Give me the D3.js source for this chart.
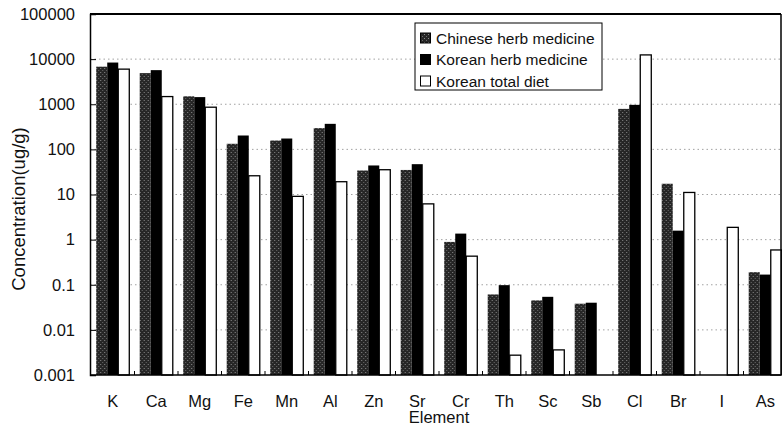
<!DOCTYPE html>
<html>
<head>
<meta charset="utf-8">
<script src="https://cdn.jsdelivr.net/npm/d3@7"></script>
<style>
  body { margin: 0; background: #fff; }
  text { font-family: "Liberation Sans", Arial, sans-serif; fill: #111; }
</style>
</head>
<body>
<script>
// element concentrations (ug/g)
var elements = [ "K", "Ca", "Mg", "Fe", "Mn", "Al", "Zn", "Sr", "Cr", "Th", "Sc", "Sb", "Cl", "Br", "I", "As" ];
var seriesNames = [ "Chinese herb medicine", "Korean herb medicine", "Korean total diet" ];
var chinese = [ 6800, 4900, 1500, 133, 157, 296, 34, 35, 0.89, 0.061, 0.045, 0.038, 790, 17.3, null, 0.19 ];
var korean  = [ 8400, 5700, 1440, 203, 174, 368, 44, 47, 1.36, 0.098, 0.054, 0.040, 970, 1.58, null, 0.168 ];
var diet    = [ 6000, 1480, 860, 26, 9.1, 19.2, 35.4, 6.2, 0.43, 0.00275, 0.0036, null, 12400, 11.1, 1.87, 0.59 ];
var yTicks  = [ 0.001, 0.01, 0.1, 1, 10, 100, 1000, 10000, 100000 ];

var series = [ chinese, korean, diet ];

var svg = d3.select( "body" )
            .append( "svg" )
              .attr( "width", 782 )
              .attr( "height", 434 );

// stipple fill for the chinese bars
var pat = svg.append( "defs" ).append( "pattern" )
  .attr( "id", "stipple" )
  .attr( "width", 4 ).attr( "height", 4 )
  .attr( "patternUnits", "userSpaceOnUse" );
pat.append( "rect" ).attr( "width", 4 ).attr( "height", 4 ).attr( "fill", "#262626" );
pat.append( "rect" ).attr( "x", 0 ).attr( "y", 0 ).attr( "width", 1 ).attr( "height", 1 ).attr( "fill", "#8c8c8c" );
pat.append( "rect" ).attr( "x", 2 ).attr( "y", 2 ).attr( "width", 1 ).attr( "height", 1 ).attr( "fill", "#6a6a6a" );

var fills = [ "url(#stipple)", "#000", "#fff" ];

// plot edges (window.top is taken, so prefix them)
var pLeft = 90, pRight = 781, pTop = 14, pBottom = 375;

var x = d3.scaleBand()
  .domain( elements )
  .range( [ 91, 787 ] )
  .paddingInner( 0.24 )
  .paddingOuter( 0.12 );

var x1 = d3.scaleBand()
  .domain( d3.range( seriesNames.length ) )
  .range( [ 0, x.bandwidth() ] );

var y = d3.scaleLog()
  .domain( [ 0.001, 100000 ] )
  .range( [ pBottom, pTop ] );

// dotted gridlines
svg.append( "g" )
  .selectAll( "line" )
  .data( yTicks.slice( 1, -1 ) )
  .enter()
  .append( "line" )
    .attr( "x1", pLeft ).attr( "x2", pRight )
    .attr( "y1", function(d){ return y(d); } )
    .attr( "y2", function(d){ return y(d); } )
    .attr( "stroke", "#8a8a8a" )
    .attr( "stroke-width", 0.8 )
    .attr( "stroke-dasharray", "1.5,3" );

// bars, grouped by element
var groups = svg.append( "g" )
  .selectAll( "g" )
  .data( elements )
  .enter()
  .append( "g" )
    .attr( "transform", function(d){ return "translate(" + x(d) + ",0)"; } );

groups.selectAll( "rect" )
  .data( function(d, i){
    return series.map( function(s, k){ return { k: k, v: s[i] }; } ).filter( function(e){ return e.v != null; } );
  })
  .enter()
  .append( "rect" )
    .attr( "x", function(d){ return x1(d.k); } )
    .attr( "width", x1.bandwidth() )
    .attr( "y", function(d){ return y(d.v); } )
    .attr( "height", function(d){ return pBottom - y(d.v); } )
    .attr( "fill", function(d){ return fills[d.k]; } )
    .attr( "stroke", function(d){ return d.k == 2 ? "#000" : "none"; } )
    .attr( "stroke-width", 1.3 );

// frame
svg.append( "line" ).attr( "x1", pLeft ).attr( "x2", pRight ).attr( "y1", pTop ).attr( "y2", pTop )
  .attr( "stroke", "#000" ).attr( "stroke-width", 2 );
svg.append( "line" ).attr( "x1", pRight ).attr( "x2", pRight ).attr( "y1", pTop ).attr( "y2", pBottom )
  .attr( "stroke", "#000" ).attr( "stroke-width", 1.5 );

// y axis, ticks point inward
var yAxis = svg.append( "g" )
  .attr( "transform", "translate(" + pLeft + ",0)" )
  .call( d3.axisLeft( y ).tickValues( yTicks ).tickFormat( d3.format( "~f" ) ).tickSize( -6 ).tickPadding( 15 ) );
yAxis.select( ".domain" ).attr( "stroke-width", 1.5 );
yAxis.selectAll( "text" ).style( "font-size", "16.5px" ).attr( "fill", "#111" );

// x axis
var xAxis = svg.append( "g" )
  .attr( "transform", "translate(0," + pBottom + ")" )
  .call( d3.axisBottom( x ).tickSize( 0 ).tickPadding( 20 ) );
xAxis.select( ".domain" ).attr( "d", "M" + pLeft + ",0H" + pRight ).attr( "stroke-width", 1.5 );
xAxis.selectAll( "text" ).style( "font-size", "16.5px" ).attr( "fill", "#111" );

// small marks between categories
svg.append( "g" )
  .selectAll( "line" )
  .data( elements.slice( 1 ) )
  .enter()
  .append( "line" )
    .attr( "x1", function(d){ return x(d) - x.step() * x.paddingInner() / 2; } )
    .attr( "x2", function(d){ return x(d) - x.step() * x.paddingInner() / 2; } )
    .attr( "y1", pBottom ).attr( "y2", pBottom - 4 )
    .attr( "stroke", "#000" );

// axis titles
svg.append( "text" )
  .attr( "x", 439 ).attr( "y", 423 )
  .attr( "text-anchor", "middle" )
  .style( "font-size", "16.5px" )
  .text( "Element" );

svg.append( "text" )
  .attr( "transform", "translate(25,209) rotate(-90)" )
  .attr( "text-anchor", "middle" )
  .style( "font-size", "18.5px" )
  .text( "Concentration(ug/g)" );

// legend
var lg = svg.append( "g" ).attr( "transform", "translate(415,23)" );
lg.append( "rect" )
  .attr( "width", 187 ).attr( "height", 67 )
  .attr( "fill", "#fff" ).attr( "stroke", "#000" );

var items = lg.selectAll( "g" )
  .data( seriesNames )
  .enter()
  .append( "g" )
    .attr( "transform", function(d, i){ return "translate(5," + (15 + i * 21.5) + ")"; } );
items.append( "rect" )
  .attr( "x", 0.5 ).attr( "y", -5 )
  .attr( "width", 10 ).attr( "height", 10 )
  .attr( "fill", function(d, i){ return fills[i]; } )
  .attr( "stroke", "#000" );
items.append( "text" )
  .attr( "x", 16 ).attr( "dy", "0.36em" )
  .style( "font-size", "15.5px" )
  .text( function(d){ return d; } );
</script>
</body>
</html>
